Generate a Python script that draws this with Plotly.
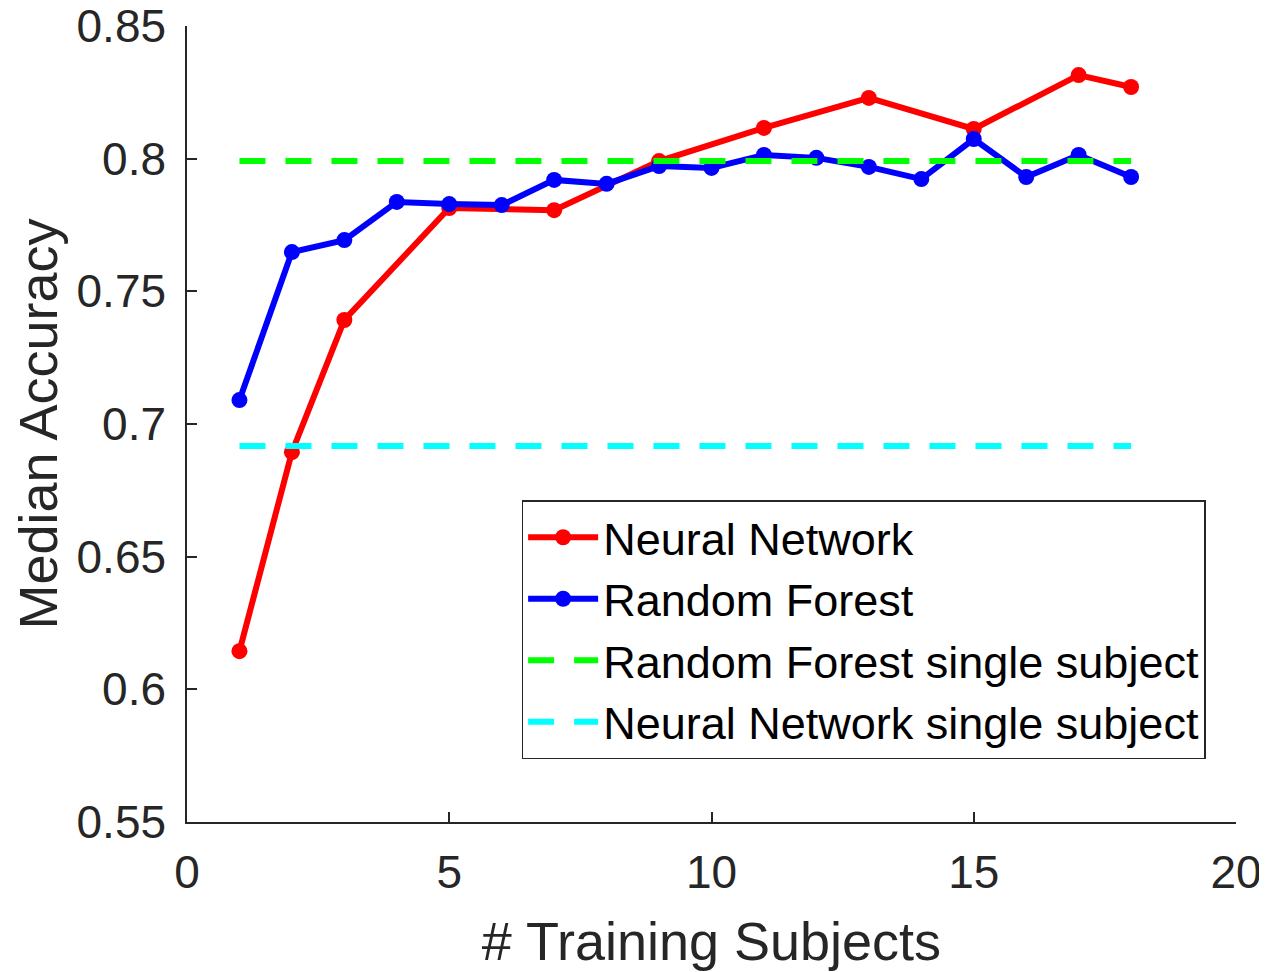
import plotly.graph_objects as go

nn_x = [1, 2, 3, 5, 7, 9, 11, 13, 15, 17, 18]
nn_y = [0.6144, 0.6894, 0.7392, 0.7814, 0.7806, 0.7991, 0.8116, 0.8229, 0.8112, 0.8315, 0.8270]

rf_x = list(range(1, 19))
rf_y = [0.7090, 0.7648, 0.7693, 0.7837, 0.7829, 0.7825, 0.7920, 0.7905, 0.7972,
        0.7965, 0.8014, 0.8003, 0.7969, 0.7923, 0.8074, 0.7931, 0.8014, 0.7931]

single_x = [1, 18]
rf_single = 0.7991
nn_single = 0.6917

x_ticks = [0, 5, 10, 15, 20]
y_ticks = [0.55, 0.6, 0.65, 0.7, 0.75, 0.8, 0.85]

FONT = "Liberation Sans, Arial, sans-serif"
AX = "#262626"

fig = go.Figure()
fig.add_trace(go.Scatter(x=nn_x, y=nn_y, mode="lines+markers", name="Neural Network",
                         line=dict(color="#FF0000", width=6), marker=dict(size=16, color="#FF0000")))
fig.add_trace(go.Scatter(x=rf_x, y=rf_y, mode="lines+markers", name="Random Forest",
                         line=dict(color="#0000FF", width=6), marker=dict(size=16, color="#0000FF")))
fig.add_trace(go.Scatter(x=single_x, y=[rf_single] * 2, mode="lines", name="Random Forest single subject",
                         line=dict(color="#00FF00", width=6, dash="26px,20px")))
fig.add_trace(go.Scatter(x=single_x, y=[nn_single] * 2, mode="lines", name="Neural Network single subject",
                         line=dict(color="#00FFFF", width=6, dash="26px,20px")))

fig.update_layout(
    width=1259, height=964,
    margin=dict(l=179, r=31, t=18, b=150),
    paper_bgcolor="white", plot_bgcolor="white",
    font=dict(family=FONT, color=AX, size=46),
    showlegend=True,
    legend=dict(x=0.319, y=0.4045, xanchor="left", yanchor="top",
                bordercolor=AX, borderwidth=1.5, bgcolor="white",
                font=dict(size=45, color="black", family=FONT),
                itemwidth=70, tracegroupgap=0),
    xaxis=dict(range=[0, 20], tickvals=x_ticks, showgrid=False, zeroline=False,
               showline=True, linecolor=AX, linewidth=1.5, automargin=False,
               ticks="inside", ticklen=10, tickcolor=AX, tickwidth=1.5,
               tickfont=dict(size=46, color=AX), ticklabelstandoff=9,
               ticklabeloverflow="allow",
               title=dict(text="# Training Subjects", font=dict(size=54, color=AX), standoff=25)),
    yaxis=dict(range=[0.55, 0.85], tickvals=y_ticks, showgrid=False, zeroline=False,
               showline=True, linecolor=AX, linewidth=1.5, automargin=False,
               ticks="inside", ticklen=10, tickcolor=AX, tickwidth=1.5,
               tickfont=dict(size=46, color=AX), ticklabelstandoff=10,
               ticklabeloverflow="allow",
               title=dict(text="Median Accuracy", font=dict(size=54, color=AX), standoff=20)),
)

fig.write_html("out.html")
